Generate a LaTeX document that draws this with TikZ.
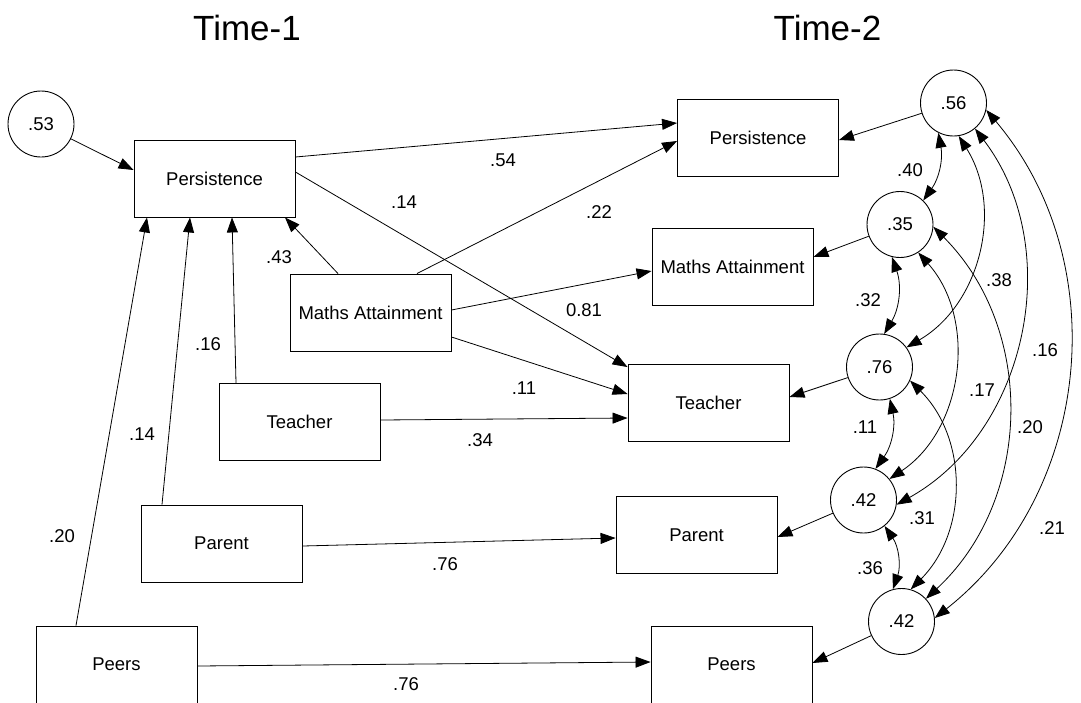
\documentclass[tikz,border=0pt]{standalone}
\usepackage{fontspec}
\setmainfont{Liberation Sans}
\usetikzlibrary{arrows.meta}
\begin{document}
\begin{tikzpicture}[x=1pt,y=1pt,
  box/.style={draw, line width=0.9pt, minimum width=161pt, minimum height=77pt, inner sep=0pt, font=\fontsize{18.5}{22}\selectfont},
  err/.style={draw, circle, line width=0.9pt, minimum size=66pt, inner sep=0pt, font=\fontsize{18.5}{22}\selectfont},
  lab/.style={inner sep=0pt, font=\fontsize{18.5}{22}\selectfont},
  ttl/.style={inner sep=0pt, font=\fontsize{35}{40}\selectfont},
  conn/.style={line width=0.8pt, -{Triangle[length=15pt,width=11pt]}},
  cov/.style={line width=0.8pt, {Triangle[length=15pt,width=11pt]}-{Triangle[length=15pt,width=11pt]}},
]
\useasboundingbox (0,0) rectangle (1081,-702);
% titles
\node[ttl] (tt1) at (247,-27.5) {Time-1};
\node[ttl] (tt2) at (827.5,-27.5) {Time-2};
% nodes
\node[err] (c53) at (41,-124) {.53};
\node[box] (p1) at (214.5,-178.5) {Persistence};
\node[box] (m1) at (370.5,-312.5) {Maths Attainment};
\node[box] (t1) at (299.5,-422) {Teacher};
\node[box] (pa1) at (221.5,-543.5) {Parent};
\node[box] (pe1) at (116.5,-664.5) {Peers};
\node[box] (p2) at (758,-137.5) {Persistence};
\node[box] (m2) at (732.5,-266.5) {Maths Attainment};
\node[box] (t2) at (708.5,-403) {Teacher};
\node[box] (pa2) at (696.5,-535) {Parent};
\node[box] (pe2) at (731.5,-664.5) {Peers};
\node[err] (c56) at (953.5,-103) {.56};
\node[err] (c35) at (900,-224.5) {.35};
\node[err] (c76) at (879.5,-367) {.76};
\node[err] (c42a) at (863.5,-500) {.42};
\node[err] (c42b) at (901.5,-621.5) {.42};
% paths
\draw[conn] (c53) -- ([yshift=8.5]p1.west);
\draw[conn] ([xshift=-40.5]pe1.north) -- ([xshift=-67.5]p1.south);
\draw[conn] ([xshift=-59.5]pa1.north) -- ([xshift=-24.5]p1.south);
\draw[conn] ([xshift=-63.5]t1.north) -- ([xshift=17.5]p1.south);
\draw[conn] ([xshift=-32.5]m1.north) -- ([xshift=70.5]p1.south);
\draw[conn] ([yshift=21.5]p1.east) -- ([yshift=14.5]p2.west);
\draw[conn] ([yshift=6.5]p1.east) -- ([yshift=-3]t2.north west);
\draw[conn] ([xshift=46.5]m1.north) -- ([yshift=-3.5]p2.west);
\draw[conn] ([yshift=2.5]m1.east) -- ([yshift=-4.5]m2.west);
\draw[conn] ([yshift=-24.5]m1.east) -- ([yshift=9]t2.west);
\draw[conn] ([yshift=2]t1.east) -- ([yshift=-15]t2.west);
\draw[conn] ([yshift=-2.5]pa1.east) -- ([yshift=-3]pa2.west);
\draw[conn] ([yshift=-1.5]pe1.east) -- ([yshift=2.5]pe2.west);
\draw[conn] (c56) -- ([yshift=-2.5]p2.east);
\draw[conn] (c35) -- ([yshift=9.5]m2.east);
\draw[conn] (c76) -- ([yshift=6]t2.east);
\draw[conn] (c42a) -- ([yshift=-2]pa2.east);
\draw[conn] (c42b) -- ([yshift=1.5]pe2.east);
% covariances
\draw[cov] (c56.-117) to[bend left=23] (c35.46.5);
\draw[cov] (c35.-104) to[bend left=25] (c76.82);
\draw[cov] (c76.-72) to[bend left=24] (c42a.69);
\draw[cov] (c42a.-51) to[bend left=27] (c42b.105);
\draw[cov] (c56.-81) to[bend left=46] (c76.36);
\draw[cov] (c56.-50) to[bend left=49] (c42a.-8);
\draw[cov] (c56.-12) to[bend left=46] (c42b.6);
\draw[cov] (c35.-57) to[bend left=49] (c42a.39);
\draw[cov] (c35.-4) to[bend left=46] (c42b.43);
\draw[cov] (c76.-24) to[bend left=45] (c42b.74.5);
% labels
\node[lab] (l1) at (503,-160) {.54};
\node[lab] (l2) at (404,-202) {.14};
\node[lab] (l3) at (599,-212) {.22};
\node[lab] (l4) at (279,-257) {.43};
\node[lab] (l5) at (584,-310) {0.81};
\node[lab] (l6) at (208,-344) {.16};
\node[lab] (l7) at (524,-388) {.11};
\node[lab] (l8) at (480,-440) {.34};
\node[lab] (l9) at (142,-434) {.14};
\node[lab] (l10) at (62,-536) {.20};
\node[lab] (l11) at (445,-564) {.76};
\node[lab] (l12) at (406,-684) {.76};
\node[lab] (l13) at (910,-170) {.40};
\node[lab] (l14) at (868,-300) {.32};
\node[lab] (l15) at (999,-280) {.38};
\node[lab] (l16) at (1045,-350) {.16};
\node[lab] (l17) at (865,-427) {.11};
\node[lab] (l18) at (982,-390) {.17};
\node[lab] (l19) at (1030,-427) {.20};
\node[lab] (l20) at (922,-518) {.31};
\node[lab] (l21) at (1052,-528) {.21};
\node[lab] (l22) at (870,-568) {.36};
\end{tikzpicture}
\end{document}
